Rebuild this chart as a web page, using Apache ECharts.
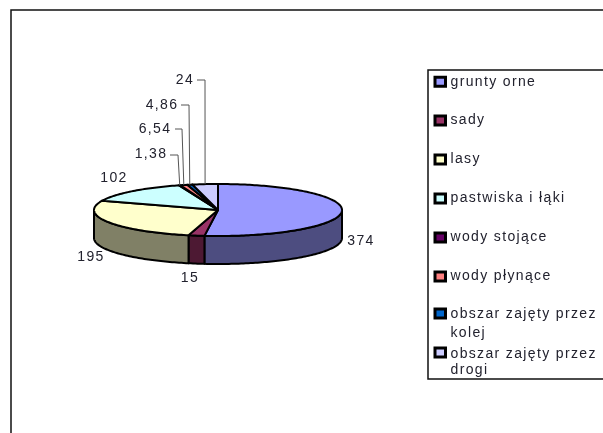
<!DOCTYPE html>
<html><head><meta charset="utf-8">
<style>html,body{margin:0;padding:0;background:#fff}#c{width:603px;height:433px}</style>
<script src="https://cdn.jsdelivr.net/npm/echarts@6/dist/echarts.min.js"></script>
</head><body><div id="c"></div>
<script>
const categories = ['grunty orne','sady','lasy','pastwiska i łąki','wody stojące','wody płynące','obszar zajęty przez kolej','obszar zajęty przez drogi'];
const values = [374,15,195,102,1.38,6.54,4.86,24];
const valueLabels = ['374','15','195','102','1,38','6,54','4,86','24'];
const colors = ['#9999FF','#993366','#FFFFCC','#CCFFFF','#660066','#FF8080','#0066CC','#CCCCFF'];
const wallColors = ['#4D4D80','#4D1933','#808066','#668080','#330033','#804040','#003366','#666680'];

// Layout (pixels), separate from the data
const PIE = {cx:218, cy:210, rx:124, ry:26, depth:28};
const LABEL_AT = [[361,241],[190,278],[91,257],[114,178],[151,154],[155,129],[162,105],[185,80]];
// label-side start of the leader for the small slices: [x start, x elbow, y]
const LEADER = {4:[170,178,155],5:[175,182,129],6:[181,189,105],7:[197,205,80]};
const FAMILY = '"Liberation Sans"';
const FONT = '14px ' + FAMILY;
const TEXT = '#22222e';

// The reference text is visibly letter-spaced; applied to every 2D context of the page.
const origGet = HTMLCanvasElement.prototype.getContext;
HTMLCanvasElement.prototype.getContext = function(t,o){
  const c = origGet.call(this,t,o);
  if (t==='2d' && c && 'letterSpacing' in c) c.letterSpacing='1.35px';
  return c;
};

const total = values.reduce((a,b)=>a+b,0);
const rad = v => v/total*Math.PI*2;
function startOf(i){let s=0;for(let k=0;k<i;k++)s+=values[k];return rad(s);}
const pt = (a,dy=0) => [PIE.cx+PIE.rx*Math.sin(a), PIE.cy+dy-PIE.ry*Math.cos(a)];
function arc(a0,a1,dy){const n=Math.max(2,Math.ceil((a1-a0)/0.02));const o=[];for(let j=0;j<=n;j++)o.push(pt(a0+(a1-a0)*j/n,dy));return o;}

function renderSlice(params, api){
  const i = params.seriesIndex;
  const a0 = startOf(i), a1 = a0+rad(api.value(0));
  const children = [];
  const s = Math.max(a0,Math.PI/2), e = Math.min(a1,Math.PI*1.5);
  if (e>s){
    children.push({type:'polygon',z2:1,shape:{points:arc(s,e,0).concat(arc(s,e,PIE.depth).reverse())},
      style:{fill:wallColors[i],stroke:'#000',lineWidth:2,lineJoin:'round'}});
  }
  children.push({type:'polygon',z2:2,shape:{points:[[PIE.cx,PIE.cy]].concat(arc(a0,a1,0))},
    style:{fill:colors[i],stroke:'#000',lineWidth:2,lineJoin:'round'}});
  const L = LEADER[i];
  if (L){
    const tip = pt((a0+a1)/2);
    children.push({type:'polyline',z2:3,shape:{points:[[L[0],L[2]],[L[1],L[2]],tip]},
      style:{fill:null,stroke:'#555',lineWidth:1}});
  }
  children.push({type:'text',z2:4,style:{text:valueLabels[i],x:LABEL_AT[i][0],y:LABEL_AT[i][1],
    align:'center',verticalAlign:'middle',font:FONT,fill:TEXT}});
  return {type:'group',children};
}

const wrap = n => n.replace(' przez ',' przez\n');
const common = {orient:'vertical',left:430,padding:0,selectedMode:false,itemWidth:14,itemHeight:9,
  itemStyle:{borderColor:'#000',borderWidth:3},formatter:wrap};
const chart = echarts.init(document.getElementById('c'),null,{renderer:'canvas'});
chart.setOption({
  animation:false,
  backgroundColor:'#fff',
  graphic:[
    {type:'polyline',z:-1,shape:{points:[[11,433],[11,10],[603,10]]},style:{fill:null,stroke:'#111',lineWidth:1.5}},
    {type:'polyline',z:-1,shape:{points:[[603,70],[428,70],[428,379],[603,379]]},style:{fill:null,stroke:'#111',lineWidth:1.5}}
  ],
  legend:[
    Object.assign({},common,{top:74,itemGap:23.6,icon:'path://M0 0L0 0M3.5 0H14V9H3.5Z',data:categories.slice(0,6),
      textStyle:{fontFamily:FAMILY,fontSize:14,color:TEXT,lineHeight:14}}),
    Object.assign({},common,{top:305,itemHeight:30,icon:'path://M0 0L0 0M3.5 0H14V9H3.5ZM0 30L0 30',data:[categories[6]],
      textStyle:{fontFamily:FAMILY,fontSize:14,color:TEXT,lineHeight:19}}),
    Object.assign({},common,{top:346,itemHeight:28,icon:'path://M0 0L0 0M3.5 0H14V9H3.5ZM0 28L0 28',data:[categories[7]],
      textStyle:{fontFamily:FAMILY,fontSize:14,color:TEXT,lineHeight:16}})
  ],
  series: categories.map((name,i)=>({
    type:'custom',name,coordinateSystem:'none',silent:true,
    itemStyle:{color:colors[i]},
    data:[[values[i]]],
    renderItem:renderSlice
  }))
});
</script></body></html>
